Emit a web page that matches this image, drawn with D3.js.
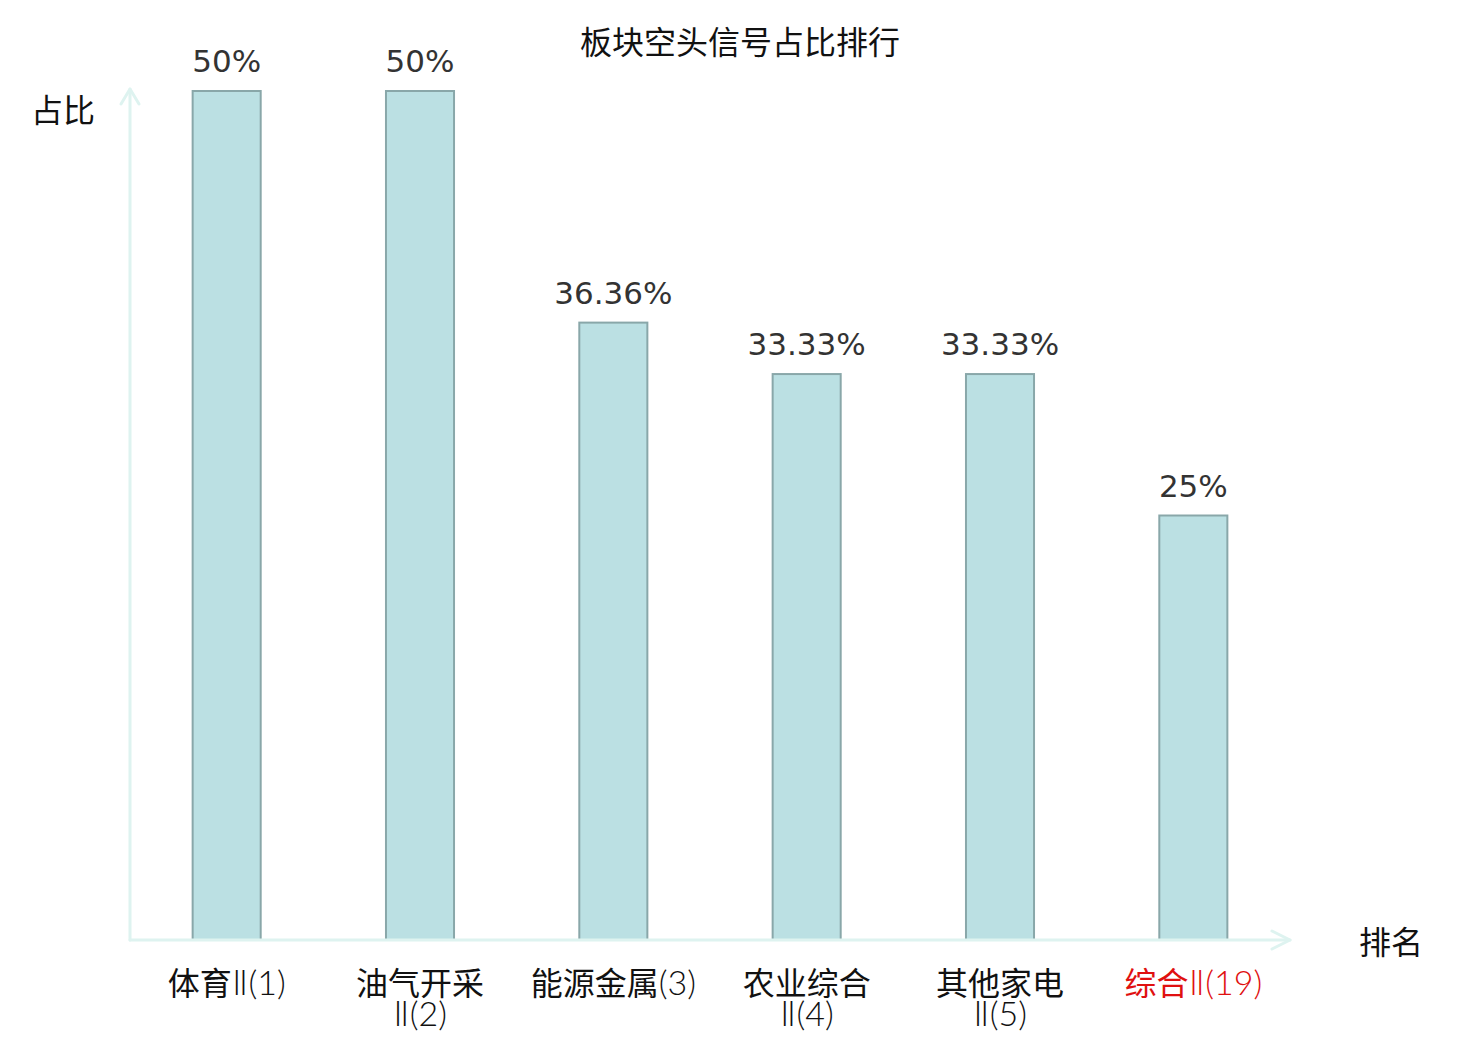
<!DOCTYPE html>
<html lang="zh">
<head>
<meta charset="UTF-8">
<title>板块空头信号占比排行</title>
<style>
html,body{margin:0;width:100vw;height:100vh;overflow:hidden;background:#fff;}
svg{width:1480px;height:1040px;display:block;}
</style>
</head>
<body>
<svg></svg>
<script src="https://d3js.org/d3.v7.min.js"></script>
<script>
const categories = [["体育Ⅱ(1)"], ["油气开采", "Ⅱ(2)"], ["能源金属(3)"], ["农业综合", "Ⅱ(4)"], ["其他家电", "Ⅱ(5)"], ["综合Ⅱ(19)"]];
const values = [50, 50, 36.36, 33.33, 33.33, 25];
const valueLabels = ["50%", "50%", "36.36%", "33.33%", "33.33%", "25%"];
const highlight = [false, false, false, false, false, true];

const svg = d3.select("svg");
const CJK = "'Noto Sans CJK SC', sans-serif";
const THIN = "Lato, 'DejaVu Sans', sans-serif";
const LAT = "'DejaVu Sans', sans-serif";
const axisColor = "#def3f0";

const x0 = 130, x1 = 1290, yBase = 940, yTop = 91;

const x = d3.scaleBand().domain(d3.range(categories.length))
  .range([x0, x1]).paddingInner(0.648).paddingOuter(0.324);
const y = d3.scaleLinear().domain([0, 50]).range([yBase, yTop]);

// title
svg.append("text").attr("x", 740).attr("y", 54).attr("text-anchor", "middle")
  .style("font-family", CJK).style("font-size", "32px").attr("fill", "#111")
  .text("板块空头信号占比排行");

// bars
svg.selectAll("rect.bar").data(values).join("rect")
  .attr("class", "bar")
  .attr("x", (d, i) => x(i))
  .attr("y", d => y(d))
  .attr("width", x.bandwidth())
  .attr("height", d => yBase - y(d))
  .attr("fill", "#bbe0e3")
  .attr("stroke", "#89a7a9")
  .attr("stroke-width", 2);

// value labels
svg.selectAll("text.val").data(values).join("text")
  .attr("class", "val")
  .attr("x", (d, i) => x(i) + x.bandwidth() / 2)
  .attr("y", d => y(d) - 19)
  .attr("text-anchor", "middle")
  .style("font-family", LAT).style("font-size", "31px")
  .attr("fill", "#333")
  .text((d, i) => valueLabels[i]);

// axes with open arrowheads
const ax = svg.append("g").attr("stroke", axisColor).attr("stroke-width", 3)
  .attr("fill", "none").attr("stroke-linecap", "round").attr("stroke-linejoin", "round");
ax.append("line").attr("x1", x0).attr("y1", yBase).attr("x2", x0).attr("y2", yTop - 2);
ax.append("path").attr("d", `M${x0 - 9},${yTop + 13}L${x0},${yTop - 2}L${x0 + 9},${yTop + 13}`);
ax.append("line").attr("x1", x0).attr("y1", yBase).attr("x2", x1).attr("y2", yBase);
ax.append("path").attr("d", `M${x1 - 18},${yBase - 9}L${x1},${yBase}L${x1 - 18},${yBase + 9}`);

// axis names
svg.append("text").attr("x", 63).attr("y", 122).attr("text-anchor", "middle")
  .style("font-family", CJK).style("font-size", "32px").attr("fill", "#111").text("占比");
svg.append("text").attr("x", 1391).attr("y", 954).attr("text-anchor", "middle")
  .style("font-family", CJK).style("font-size", "32px").attr("fill", "#111").text("排名");

// category labels: one text per line, CJK part regular, the rest thin
const cx = i => x(i) + x.bandwidth() / 2;
categories.forEach((lines, i) => {
  lines.forEach((line, j) => {
    const t = svg.append("text").attr("class", "cat")
      .attr("x", cx(i)).attr("y", 995 + j * 31)
      .attr("text-anchor", "middle")
      .style("font-size", "32px")
      .attr("fill", highlight[i] ? "#e01010" : "#111");
    const m = line.match(/^([^Ⅱ(]*)(.*)$/);
    if (m[1]) t.append("tspan").style("font-family", CJK).text(m[1]);
    if (m[2]) t.append("tspan").style("font-family", THIN).style("font-weight", 300)
      .style("font-size", "34px").text(m[2]);
  });
});
</script>
</body>
</html>
